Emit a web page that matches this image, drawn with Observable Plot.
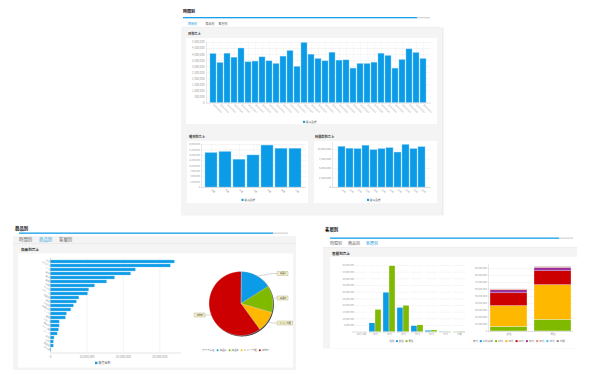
<!DOCTYPE html>
<html lang="ja"><head><meta charset="utf-8">
<script src="https://cdn.jsdelivr.net/npm/d3@7"></script>
<script src="https://cdn.jsdelivr.net/npm/@observablehq/plot@0.6"></script>
<style>
html,body{margin:0;padding:0;background:#fff;}
#root{position:relative;width:600px;height:386px;overflow:hidden;}
#root svg{position:absolute;max-width:none;}
</style></head><body><div id="root"></div>
<script>
// ---------------- DATA ----------------
const tabNames = ["時間別", "商品別", "客層別"];
const dayLabels = ["2013/03/01","2013/03/02","2013/03/03","2013/03/04","2013/03/05","2013/03/06","2013/03/07","2013/03/08","2013/03/09","2013/03/10","2013/03/11","2013/03/12","2013/03/13","2013/03/14","2013/03/15","2013/03/16","2013/03/17","2013/03/18","2013/03/19","2013/03/20","2013/03/21","2013/03/22","2013/03/23","2013/03/24","2013/03/25","2013/03/26","2013/03/27","2013/03/28","2013/03/29","2013/03/30","2013/03/31"];
const dayValues = [4040000,3300000,4070000,3740000,4500000,3360000,3420000,3770000,3440000,3220000,3830000,4290000,2980000,4950000,3990000,3630000,3440000,4150000,3500000,3520000,2840000,3220000,3220000,3330000,4070000,3880000,2840000,3550000,4430000,4130000,3630000];
const dayTicks = [0,500000,1000000,1500000,2000000,2500000,3000000,3500000,4000000,4500000,5000000];

const weekdayLabels = ["日曜","月曜","火曜","水曜","木曜","金曜","土曜"];
const weekdayValues = [16000000,16500000,12900000,14900000,19500000,18000000,18000000];
const weekdayTicks = [0,2500000,5000000,7500000,10000000,12500000,15000000,17500000,20000000];

const hourLabels = ["10時","11時","12時","13時","14時","15時","16時","17時","18時","19時","20時"];
const hourValues = [10700000,10200000,10100000,11000000,9800000,10100000,10350000,9200000,11200000,10100000,10600000];
const hourTicks = [0,2500000,5000000,7500000,10000000];

const productNames = ["弁当","おにぎり","パン","飲料","菓子","麺類","惣菜","サラダ","デザート","乳製品","雑誌","日用品","冷凍食品","アイス","酒類","たばこ","調味料","カップ麺","スープ","果物","文具","医薬品","その他"];
const productValues = [34100000,33000000,23400000,22100000,17700000,15500000,12200000,10600000,10300000,7900000,7200000,6400000,5700000,4500000,4200000,2500000,2500000,2300000,1950000,1100000,900000,900000,250000];
const productTicks = [0,10000000,20000000,30000000];

const pieNames = ["商品A","商品B","ドリンク類","Other"];
const pieShares = [16, 13.5, 10.5, 60];
const pieColors = ["#0c9be6","#7fba00","#ffb800","#cc0000"];

const sexes = ["女性","男性"];
const sexColors = ["#0c9be6","#7fba00"];
const ageGroups = ["10代以前","20代","30代","40代","50代","60代","70代","不明"];
const ageColors = ["#0c9be6","#7fba00","#ffb800","#cc0000","#993399","#f4845f","#33c4f0","#888888"];
const femaleSales = [60000,6600000,29600000,18200000,4500000,1100000,200000,100000];
const maleSales = [60000,16700000,49400000,19800000,5100000,1300000,200000,300000];
const groupTicks = [0,5000000,10000000,15000000,20000000,25000000,30000000,35000000,40000000,45000000,50000000];
const stackTicks = [0,10000000,20000000,30000000,40000000,50000000,60000000,70000000,80000000,90000000];

// ---------------- SETUP ----------------
const FONT = '"Noto Sans CJK JP","Noto Sans",sans-serif';
const BLUE = "#0c9be6", BLUE_EDGE = "#86ccf2";
const fmt = d3.format(",");
const root = document.getElementById("root");
const bg = d3.select(root).append("svg").attr("width",600).attr("height",386)
  .style("left","0px").style("top","0px").style("font-family",FONT);

function box(x,y,w,h,fill){ return bg.append("rect").attr("x",x).attr("y",y).attr("width",w).attr("height",h).attr("fill",fill); }
function hline(x1,x2,y,stroke){ bg.append("line").attr("x1",x1).attr("x2",x2).attr("y1",y).attr("y2",y).attr("stroke",stroke).attr("stroke-width",0.5); }
function vline(x,y1,y2,stroke){ bg.append("line").attr("x1",x).attr("x2",x).attr("y1",y1).attr("y2",y2).attr("stroke",stroke).attr("stroke-width",0.6); }
function txt(x,y,s,size,fill,weight){ return bg.append("text").attr("x",x).attr("y",y).attr("font-size",size).attr("fill",fill).attr("font-weight",weight||"normal").text(s); }
function legend(x,y,title,labels,colors,size,shape){
  let cx = x;
  if (title){ const t = txt(cx,y,title,size,"#666"); cx += t.node().getComputedTextLength() + size*0.7; }
  labels.forEach((l,i)=>{
    if (shape==="circle") bg.append("circle").attr("cx",cx+size*0.4).attr("cy",y-size*0.33).attr("r",size*0.38).attr("fill",colors[i]);
    else box(cx, y-size*0.75, size*0.8, size*0.8, colors[i]);
    cx += size*1.2;
    const t = txt(cx,y,l,size,"#666");
    cx += t.node().getComputedTextLength() + size*0.8;
  });
}
function place(svg,left,top){ svg.style.left=left+"px"; svg.style.top=top+"px"; svg.style.position="absolute"; root.appendChild(svg); }
const baseStyle = {background:"transparent", overflow:"visible", fontFamily:FONT};

function panel(p){
  box(p.bg[0],p.bg[1],p.bg[2],p.bg[3],"#f4f4f4");
  txt(p.title[0],p.title[1],p.title[2],p.title[3],"#111","bold");
  box(p.bar[0],p.bar[1],p.bar[2],1.3,"#15a0e8");
  box(p.bar[0]+p.bar[2],p.bar[1],p.bar[3],1.3,"#d6d6d6");
  tabNames.forEach((t,i)=>txt(p.tabX[i],p.tabY,t,p.tabSize,i===p.active?"#2aa0e0":"#666"));
  hline(p.sep[0],p.sep[1],p.sep[2],"#e2e2e2");
  p.cards.forEach(c=>{ box(c[0],c[1],c[2],c[3],"#fff"); });
  p.cardTitles.forEach(c=>txt(c[0],c[1],c[2],c[3],"#333","bold"));
}

// ---------------- PANELS ----------------
panel({bg:[181,27.5,262,188], title:[183,12.5,"時間別",4], bar:[183,17,234,13],
  tabX:[188,205.5,218.5], tabY:24.8, tabSize:3, active:0, sep:[183,440,27.3],
  cards:[[186,38,251,86],[187,141,121,62],[314,141,123,62]],
  cardTitles:[[188,35,"日別売上",3.2],[189,137.8,"曜日別売上",3.2],[315,137.8,"時間帯別売上",3.2]]});
vline(443,27.5,215,"#dcdcdc");

panel({bg:[13,236,283,134], title:[15,229.5,"商品別",4.4], bar:[19,232.5,254,15],
  tabX:[19,39,59], tabY:240.6, tabSize:4.4, active:1, sep:[13,296,243.5],
  cards:[[18,253.5,275,114]], cardTitles:[[21,251.2,"商品別売上",3.6]]});

panel({bg:[323,247.5,254,101], title:[325,231,"客層別",4.4], bar:[330,237.5,229,14],
  tabX:[330,348,366], tabY:244.8, tabSize:4, active:2, sep:[323,577,247.5],
  cards:[[330,257,247,91]], cardTitles:[[332,254.8,"客層別売上",3.6]]});

// legends
legend(303,122.8,null,["販売金額"],[BLUE],2.6);
legend(241.5,200.8,null,["販売金額"],[BLUE],2.6);
legend(367,200.8,null,["販売金額"],[BLUE],2.6);
legend(95,364,null,["販売金額"],[BLUE],3);
legend(202,351,"アイテム名",pieNames,pieColors,2.6,"circle");
legend(389.5,342,"性別",sexes,sexColors,2.4);
legend(473,342,"年代",ageGroups,ageColors,2.5);

// ---------------- CHART 1: daily ----------------
const dayData = dayLabels.map((d,i)=>({day:d, value:dayValues[i]}));
place(Plot.plot({
  width:251, height:82, marginLeft:20, marginRight:6, marginTop:4, marginBottom:17.5,
  style:baseStyle, x:{domain:dayLabels, padding:0.14}, y:{domain:[0,5000000]},
  marks:[
    Plot.gridX({stroke:"#efefef", strokeOpacity:1, strokeWidth:0.4}),
    Plot.gridY(dayTicks,{stroke:"#e6e6e6", strokeOpacity:1, strokeWidth:0.4}),
    Plot.barY(dayData,{x:"day", y:"value", fill:BLUE, stroke:BLUE_EDGE, strokeWidth:0.4}),
    Plot.ruleY([0],{stroke:"#c8c8c8", strokeWidth:0.5}),
    Plot.frame({anchor:"left", stroke:"#d0d0d0", strokeWidth:0.5}),
    Plot.axisY(dayTicks,{tickSize:0, tickPadding:2, tickFormat:fmt, fontSize:2.8, fill:"#999", label:null}),
    Plot.axisX({tickSize:0, tickPadding:1.5, tickRotate:45, fontSize:2.2, fill:"#999", label:null})
  ]}), 186, 38);

// ---------------- CHART 2: weekday ----------------
const weekData = weekdayLabels.map((d,i)=>({day:d, value:weekdayValues[i]}));
place(Plot.plot({
  width:121, height:57, marginLeft:14, marginRight:2, marginTop:3, marginBottom:11,
  style:baseStyle, x:{domain:weekdayLabels, padding:0.14}, y:{domain:[0,20000000]},
  marks:[
    Plot.gridX({stroke:"#efefef", strokeOpacity:1, strokeWidth:0.4}),
    Plot.gridY(weekdayTicks,{stroke:"#e6e6e6", strokeOpacity:1, strokeWidth:0.4}),
    Plot.barY(weekData,{x:"day", y:"value", fill:BLUE, stroke:BLUE_EDGE, strokeWidth:0.4}),
    Plot.ruleY([0],{stroke:"#c8c8c8", strokeWidth:0.5}),
    Plot.frame({anchor:"left", stroke:"#d0d0d0", strokeWidth:0.5}),
    Plot.axisY(weekdayTicks,{tickSize:0, tickPadding:1.5, tickFormat:fmt, fontSize:2.2, fill:"#999", label:null}),
    Plot.axisX({tickSize:0, tickPadding:2, tickRotate:45, fontSize:2.2, fill:"#999", label:null})
  ]}), 187, 141);

// ---------------- CHART 3: hourly ----------------
const hourData = hourLabels.map((d,i)=>({hour:d, value:hourValues[i]}));
place(Plot.plot({
  width:122, height:57, marginLeft:18, marginRight:5, marginTop:1.2, marginBottom:11,
  style:baseStyle, x:{domain:hourLabels, padding:0.14}, y:{domain:[0,11800000]},
  marks:[
    Plot.gridX({stroke:"#efefef", strokeOpacity:1, strokeWidth:0.4}),
    Plot.gridY(hourTicks,{stroke:"#e6e6e6", strokeOpacity:1, strokeWidth:0.4}),
    Plot.barY(hourData,{x:"hour", y:"value", fill:BLUE, stroke:BLUE_EDGE, strokeWidth:0.4}),
    Plot.ruleY([0],{stroke:"#c8c8c8", strokeWidth:0.5}),
    Plot.frame({anchor:"left", stroke:"#d0d0d0", strokeWidth:0.5}),
    Plot.axisY(hourTicks,{tickSize:0, tickPadding:1.5, tickFormat:fmt, fontSize:2.7, fill:"#999", label:null}),
    Plot.axisX({tickSize:0, tickPadding:2, tickRotate:45, fontSize:2.2, fill:"#999", label:null})
  ]}), 314, 141);

// ---------------- CHART 4: products ----------------
const productData = productNames.map((n,i)=>({name:n, value:productValues[i]}));
place(Plot.plot({
  width:168, height:107, marginLeft:32, marginRight:6, marginTop:4, marginBottom:8.5,
  style:baseStyle, x:{domain:[0,35680000]}, y:{domain:productNames, padding:0.16},
  marks:[
    Plot.gridX(productTicks,{stroke:"#e6e6e6", strokeOpacity:1, strokeWidth:0.4}),
    Plot.barX(productData,{y:"name", x:"value", fill:BLUE, stroke:BLUE_EDGE, strokeWidth:0.4}),
    Plot.ruleX([0],{stroke:"#c8c8c8", strokeWidth:0.5}),
    Plot.frame({anchor:"bottom", stroke:"#c8c8c8", strokeWidth:0.5}),
    Plot.axisX(productTicks,{tickSize:0, tickPadding:2.5, tickFormat:fmt, fontSize:3, fill:"#999", label:null}),
    Plot.axisY({tickSize:0, tickPadding:1, tickRotate:30, fontSize:2.2, fill:"#999", label:null})
  ]}), 18, 254);

// ---------------- CHART 5: pie ----------------
const PIE = {left:190, top:262, w:104, h:84, cx:240.5, cy:303, r:32};
const U = px => (px-PIE.cx)/PIE.r, V = py => (py-PIE.cy)/PIE.r;
const arcs = d3.pie().sort(null).value(d=>d)(pieShares);
function ring(a0,a1,withCenter){
  const pts = withCenter ? [[0,0]] : [];
  const n = Math.max(2, Math.ceil((a1-a0)/0.02));
  for (let i=0;i<=n;i++){ const a=a0+(a1-a0)*i/n; pts.push([Math.sin(a),-Math.cos(a)]); }
  pts.push(pts[0]);
  return {type:"Polygon", coordinates:[pts]};
}
const frameDomain = {type:"Polygon", coordinates:[[[U(PIE.left),V(PIE.top)],[U(PIE.left+PIE.w),V(PIE.top)],[U(PIE.left+PIE.w),V(PIE.top+PIE.h)],[U(PIE.left),V(PIE.top+PIE.h)],[U(PIE.left),V(PIE.top)]]]};
const labelBoxes = [{x0:277,x1:287.5,y0:271,y1:275,side:1},{x0:277,x1:287.5,y0:295.5,y1:299.5,side:1},{x0:277,x1:292,y0:320.5,y1:324.5,side:1},{x0:194,x1:204.5,y0:312.5,y1:316.5,side:-1}];
const boxGeoms = labelBoxes.map(b=>({type:"Polygon", coordinates:[[[U(b.x0),V(b.y0)],[U(b.x1),V(b.y0)],[U(b.x1),V(b.y1)],[U(b.x0),V(b.y1)],[U(b.x0),V(b.y0)]]]}));
const connectors = arcs.map((a,i)=>{
  const b = labelBoxes[i], m = (a.startAngle+a.endAngle)/2, ym = (b.y0+b.y1)/2;
  const ex = b.side>0 ? b.x0 : b.x1;
  return {type:"LineString", coordinates:[[U(ex),V(ym)],[U(ex-b.side*5),V(ym)],[0.97*Math.sin(m),-0.97*Math.cos(m)]]};
});
const labelText = labelBoxes.map((b,i)=>({x:U((b.x0+b.x1)/2), y:V((b.y0+b.y1)/2), t:pieNames[i]}));
place(Plot.plot({
  width:PIE.w, height:PIE.h, margin:0, style:baseStyle,
  projection:{type:"identity", domain:frameDomain},
  marks:[
    Plot.geo([ring(0,2*Math.PI,false)],{fill:"#3a3a3a", dx:0.9, dy:0.9}),
    ...arcs.map((a,i)=>Plot.geo([ring(a.startAngle,a.endAngle,true)],{fill:pieColors[i], stroke:"#ffffff", strokeWidth:0.3})),
    Plot.geo(connectors,{stroke:"#999", strokeWidth:0.4}),
    Plot.geo(boxGeoms,{fill:"#f4f0c8", stroke:"#a8a27a", strokeWidth:0.4}),
    Plot.text(labelText,{x:"x", y:"y", text:"t", fontSize:2.3, fill:"#333"})
  ]}), PIE.left, PIE.top);

// ---------------- CHART 6: grouped by age ----------------
const ageData = ageGroups.flatMap((g,i)=>[{age:g, sex:sexes[0], value:femaleSales[i]},{age:g, sex:sexes[1], value:maleSales[i]}]);
place(Plot.plot({
  width:134, height:79, marginLeft:16, marginRight:2, marginTop:5, marginBottom:7.3,
  style:{...baseStyle, fontSize:"2.3px", color:"#999"},
  fx:{domain:ageGroups, padding:0.16, axis:"bottom", tickSize:0, tickPadding:1.6, label:null},
  x:{domain:sexes, padding:0, axis:null},
  y:{domain:[0,50000000], ticks:groupTicks, tickFormat:fmt, tickSize:0, tickPadding:1.5, label:null, grid:true},
  color:{domain:sexes, range:sexColors},
  marks:[
    Plot.barY(ageData,{fx:"age", x:"sex", y:"value", fill:"sex", stroke:"#fff", strokeWidth:0.3}),
    Plot.ruleY([0],{stroke:"#c8c8c8", strokeWidth:0.5})
  ]}), 336, 260);

// ---------------- CHART 7: stacked by sex ----------------
const stackData = sexes.flatMap((s,si)=>ageGroups.map((g,i)=>({sex:s, age:g, value:(si?maleSales:femaleSales)[i]})));
place(Plot.plot({
  width:106, height:76, marginLeft:18, marginRight:3, marginTop:2.5, marginBottom:7,
  style:baseStyle,
  x:{domain:sexes, paddingInner:0.15, paddingOuter:0.02},
  y:{domain:[0,95000000]},
  color:{domain:ageGroups, range:ageColors},
  marks:[
    Plot.gridY(stackTicks,{stroke:"#e6e6e6", strokeOpacity:1, strokeWidth:0.4}),
    Plot.barY(stackData,{x:"sex", y:"value", fill:"age", stroke:"#fff", strokeWidth:0.3}),
    Plot.ruleY([0],{stroke:"#c8c8c8", strokeWidth:0.5}),
    Plot.frame({anchor:"left", stroke:"#d0d0d0", strokeWidth:0.5}),
    Plot.axisY(stackTicks,{tickSize:0, tickPadding:1.5, tickFormat:fmt, fontSize:2.4, fill:"#999", label:null}),
    Plot.axisX({tickSize:0, tickPadding:1.5, fontSize:2.6, fill:"#999", label:null})
  ]}), 470, 262);
</script></body></html>
